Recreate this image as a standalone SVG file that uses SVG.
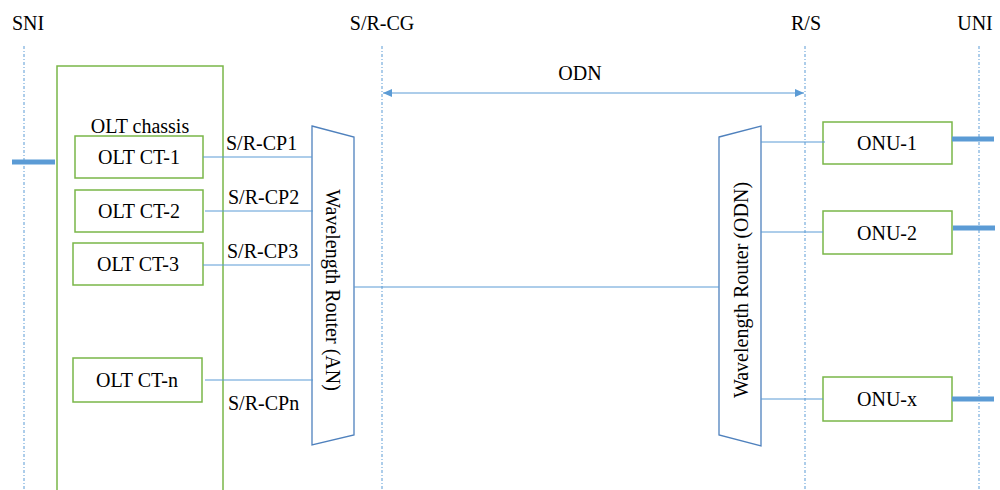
<svg xmlns="http://www.w3.org/2000/svg" width="1000" height="490" viewBox="0 0 1000 490">
  <style>
    text { font-family: "Liberation Serif", "DejaVu Serif", "Times New Roman", serif; font-size: 20px; fill: #000; }
    .ref { stroke: #5B9BD5; stroke-width: 1; stroke-dasharray: 3 2 1 2; fill: none; }
    .box { fill: #fff; stroke: #7AB648; stroke-width: 1.5; }
    .link { stroke: #5B9BD5; stroke-width: 1; fill: none; }
    .router { fill: #fff; stroke: #4F81BD; stroke-width: 1.3; }
    .port { stroke: #5B9BD5; stroke-width: 5; }
  </style>
  <defs>
    <marker id="arr" markerWidth="10" markerHeight="8" refX="9" refY="4" orient="auto-start-reverse" markerUnits="userSpaceOnUse">
      <path d="M0,0 L9,4 L0,8 Z" fill="#5B9BD5"/>
    </marker>
  </defs>

  <!-- reference points -->
  <g id="reference-points">
    <line class="ref" x1="24" y1="46" x2="24" y2="490"/>
    <line class="ref" x1="382" y1="46" x2="382" y2="490"/>
    <line class="ref" x1="805" y1="46" x2="805" y2="490"/>
    <line class="ref" x1="979" y1="46" x2="979" y2="490"/>
    <text x="28" y="30" text-anchor="middle">SNI</text>
    <text x="382" y="30" text-anchor="middle">S/R-CG</text>
    <text x="806" y="30" text-anchor="middle">R/S</text>
    <text x="975" y="30" text-anchor="middle">UNI</text>
  </g>

  <!-- ODN span -->
  <g id="odn-span">
    <line class="link" x1="383" y1="93" x2="804" y2="93" marker-start="url(#arr)" marker-end="url(#arr)"/>
    <text x="580" y="80" text-anchor="middle">ODN</text>
  </g>

  <!-- OLT chassis -->
  <g id="olt-chassis">
    <rect class="box" x="57" y="66" width="166" height="440"/>
    <text x="140" y="133" text-anchor="middle">OLT chassis</text>
  </g>
  <g id="olt-ct-1">
    <rect class="box" x="75" y="136" width="128" height="42"/>
    <text x="139" y="164" text-anchor="middle">OLT CT-1</text>
  </g>
  <g id="olt-ct-2">
    <rect class="box" x="75" y="190" width="128" height="42"/>
    <text x="139" y="218" text-anchor="middle">OLT CT-2</text>
  </g>
  <g id="olt-ct-3">
    <rect class="box" x="73" y="243" width="130" height="42"/>
    <text x="138" y="271" text-anchor="middle">OLT CT-3</text>
  </g>
  <g id="olt-ct-n">
    <rect class="box" x="73" y="358" width="129" height="44"/>
    <text x="137" y="387" text-anchor="middle">OLT CT-n</text>
  </g>

  <!-- wavelength routers -->
  <g id="router-an">
    <polygon class="router" points="312,126 354,137 354,435 312,445"/>
    <text transform="translate(326,290) rotate(90)" text-anchor="middle">Wavelength Router (AN)</text>
  </g>
  <g id="router-odn">
    <polygon class="router" points="719,137 761,126 761,446 719,435"/>
    <text transform="translate(748,290) rotate(-90)" text-anchor="middle">Wavelength Router (ODN)</text>
  </g>

  <!-- ONUs -->
  <g id="onu-1">
    <rect class="box" x="823" y="122" width="129" height="42"/>
    <text x="887" y="150" text-anchor="middle">ONU-1</text>
  </g>
  <g id="onu-2">
    <rect class="box" x="823" y="211" width="129" height="43"/>
    <text x="887" y="240" text-anchor="middle">ONU-2</text>
  </g>
  <g id="onu-x">
    <rect class="box" x="823" y="377" width="129" height="44"/>
    <text x="887" y="406" text-anchor="middle">ONU-x</text>
  </g>

  <!-- connectors -->
  <g id="connectors">
    <line class="link" x1="203" y1="157" x2="312" y2="157"/>
    <line class="link" x1="205" y1="211" x2="313" y2="211"/>
    <line class="link" x1="203" y1="265" x2="310" y2="265"/>
    <line class="link" x1="205" y1="380" x2="313" y2="380"/>
    <line class="link" x1="354" y1="287" x2="719" y2="287"/>
    <line class="link" x1="761" y1="142" x2="825" y2="142"/>
    <line class="link" x1="761" y1="232" x2="823" y2="232"/>
    <line class="link" x1="761" y1="399" x2="823" y2="399"/>
    <text x="226" y="150">S/R-CP1</text>
    <text x="228" y="204">S/R-CP2</text>
    <text x="227" y="258">S/R-CP3</text>
    <text x="228" y="410">S/R-CPn</text>
    <!-- interface ports -->
    <line class="port" x1="12" y1="162" x2="55" y2="162"/>
    <line class="port" x1="952" y1="139" x2="994" y2="139"/>
    <line class="port" x1="953" y1="228" x2="995" y2="228"/>
    <line class="port" x1="952" y1="399" x2="994" y2="399"/>
  </g>
</svg>
